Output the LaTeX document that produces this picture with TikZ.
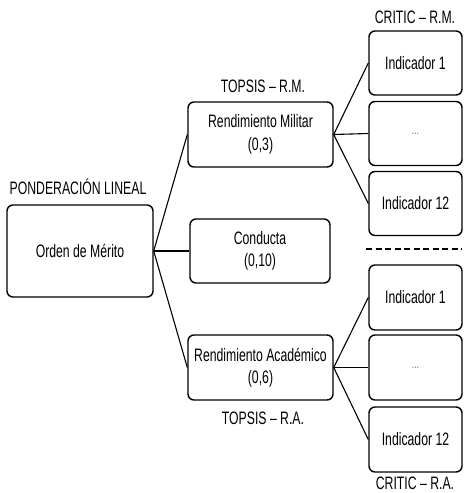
\documentclass[tikz,border=0pt]{standalone}
\usepackage{fontspec}
\setmainfont{Liberation Sans}[FakeStretch=0.68]
\begin{document}
\begin{tikzpicture}[x=1pt,y=-1pt,
  box/.style={draw=black, line width=1.4pt, rounded corners=6pt, align=center, inner sep=0pt, font=\fontsize{18}{22.5}\selectfont},
  lbl/.style={font=\fontsize{18}{20}\selectfont, inner sep=0pt},
  link/.style={draw=black, line width=1.1pt}]
\useasboundingbox (0,0) rectangle (464,493);
\node[box, minimum width=146pt, minimum height=92pt] (om) at (80,251) {Orden de Mérito};
\node[box, minimum width=145pt, minimum height=65pt] (rm) at (260.5,134.5) {Rendimiento Militar\\(0,3)};
\node[box, minimum width=140pt, minimum height=64pt] (co) at (260,251) {Conducta\\(0,10)};
\node[box, minimum width=145pt, minimum height=65pt] (ra) at (260.5,367.5) {Rendimiento Académico\\(0,6)};
\node[box, minimum width=93pt, minimum height=64pt] (m1) at (415.5,63) {Indicador 1};
\node[box, minimum width=93pt, minimum height=64pt] (m2) at (415.5,133.5) {\textcolor{black!55}{\fontsize{13}{14}\selectfont ...}};
\node[box, minimum width=93pt, minimum height=64pt] (m3) at (415.5,203.5) {Indicador 12};
\node[box, minimum width=93pt, minimum height=65pt] (a1) at (415.5,297.5) {Indicador 1};
\node[box, minimum width=93pt, minimum height=65pt] (a2) at (415.5,367.5) {\textcolor{black!55}{\fontsize{13}{14}\selectfont ...}};
\node[box, minimum width=93pt, minimum height=65pt] (a3) at (415.5,439.5) {Indicador 12};
\node[lbl] (l1) at (78,187) {PONDERACIÓN LINEAL};
\node[lbl] (l2) at (263,86) {TOPSIS – R.M.};
\node[lbl] (l3) at (263,418) {TOPSIS – R.A.};
\node[lbl] (l4) at (415,17) {CRITIC – R.M.};
\node[lbl] (l5) at (415,483) {CRITIC – R.A.};
\coordinate (d1) at (366,249);
\coordinate (d2) at (462,249);
\draw[line width=2pt, dash pattern=on 6pt off 3.5pt] (d1) -- (d2);
\draw[link] (om.east) -- (rm.west);
\draw[link] (om.east) -- (co.west);
\draw[link] (om.east) -- (ra.west);
\draw[link] (rm.east) -- (m1.west);
\draw[link] (rm.east) -- (m2.west);
\draw[link] (rm.east) -- (m3.west);
\draw[link] (ra.east) -- (a1.west);
\draw[link] (ra.east) -- (a2.west);
\draw[link] (ra.east) -- (a3.west);
\end{tikzpicture}
\end{document}
